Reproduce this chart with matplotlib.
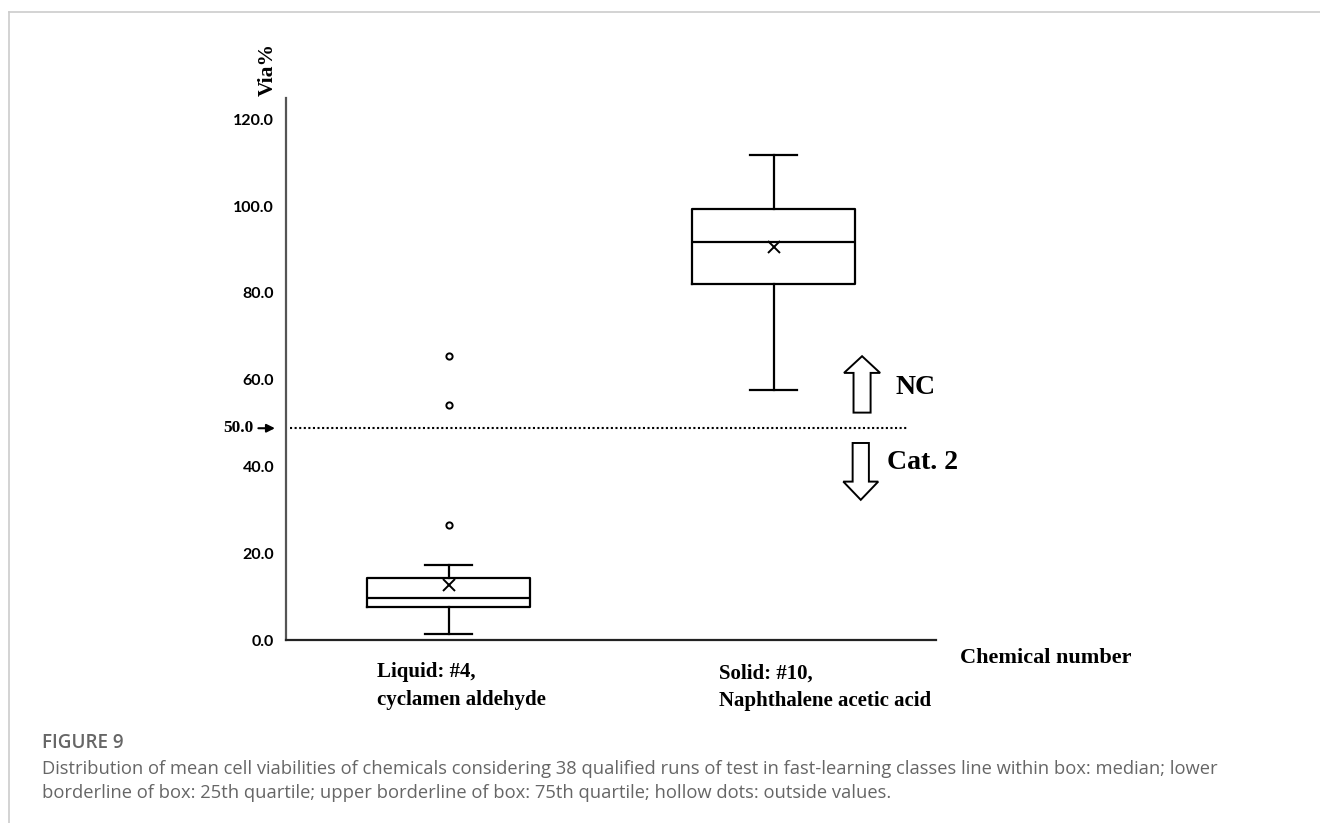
import numpy as np
import matplotlib.pyplot as plt
from matplotlib.lines import Line2D
import matplotlib.patches as mpatches

# values (Via %)
groups = ["Liquid: #4,\ncyclamen aldehyde", "Solid: #10,\nNaphthalene acetic acid"]
positions = [1, 3]
q1 = [7.6, 82.1]
med = [9.6, 91.8]
q3 = [14.2, 99.3]
whis_lo = [1.4, 57.6]
whis_hi = [17.3, 111.8]
means = [12.7, 90.6]
outliers = [[26.6, 54.2, 65.4], []]
cutoff = 48.8  # drawn height of the 50 % line
yticks = [0, 20, 40, 60, 80, 100, 120]

W, H = 1320, 823
fig = plt.figure(figsize=(W / 100, H / 100), dpi=100)

def fx(px):
    return px / W

def fy(py):
    return 1 - py / H

ax = fig.add_axes([fx(286), fy(640), fx(936) - fx(286), fy(98) - fy(640)])
ax.set_xlim(0, 4)
ax.set_ylim(0, 124.9)

stats = []
for i in range(2):
    stats.append(dict(med=med[i], q1=q1[i], q3=q3[i], whislo=whis_lo[i],
                      whishi=whis_hi[i], mean=means[i], fliers=outliers[i]))

ax.bxp(stats, positions=positions, widths=1.0, capwidths=0.29,
       showmeans=True, patch_artist=False,
       boxprops=dict(color='black', lw=1.6),
       medianprops=dict(color='black', lw=1.6),
       whiskerprops=dict(color='black', lw=1.6),
       capprops=dict(color='black', lw=1.6),
       meanprops=dict(marker='x', markeredgecolor='black', markersize=9, mew=1.4),
       flierprops=dict(marker='o', markerfacecolor='none', markeredgecolor='black',
                       markersize=4.5, mew=1.4))

# 50 % line
ax.plot([0.025, 3.83], [cutoff, cutoff], color='black', lw=1.5,
        linestyle=(0, (1, 1.2)), clip_on=False)
ax.text(-0.203, cutoff, "50.0", ha='right', va='center', fontsize=12.5,
        family='Liberation Serif', fontweight='bold', clip_on=False)
ax.annotate('', xy=(-0.068, cutoff), xytext=(-0.17, cutoff),
            arrowprops=dict(arrowstyle='-|>', color='black', lw=1.5,
                            mutation_scale=12, shrinkA=0, shrinkB=0),
            annotation_clip=False)

# hollow arrows
up = mpatches.FancyArrow(3.545, 52.4, 0, 13.0, width=0.105, head_width=0.222,
                         head_length=3.85, length_includes_head=True,
                         fc='white', ec='black', lw=1.4, clip_on=False)
down = mpatches.FancyArrow(3.537, 45.4, 0, -13.1, width=0.1, head_width=0.215,
                           head_length=4.2, length_includes_head=True,
                           fc='white', ec='black', lw=1.4, clip_on=False)
ax.add_patch(up)
ax.add_patch(down)
ax.text(3.748, 58.3, "NC", fontsize=20, family='Liberation Serif',
        fontweight='bold', va='center', ha='left')
ax.text(3.70, 41.0, "Cat. 2", fontsize=20, family='Liberation Serif',
        fontweight='bold', va='center', ha='left')

# axes styling
for s in ['top', 'right']:
    ax.spines[s].set_visible(False)
ax.spines['left'].set_color('#555555')
ax.spines['left'].set_linewidth(1.6)
ax.spines['bottom'].set_color('#222222')
ax.spines['bottom'].set_linewidth(1.6)
ax.set_xticks([])
ax.set_yticks(yticks)
ax.set_yticklabels([f"{v:.1f}" for v in yticks], family='Lato',
                   fontweight='bold', fontsize=11.5)
ax.tick_params(axis='y', length=0, pad=8.5)

# category labels
ax.text(0.56, -10.6, groups[0], ha='left', va='center', fontsize=15,
        family='Liberation Serif', fontweight='bold', linespacing=1.5, clip_on=False)
ax.text(2.665, -10.9, groups[1], ha='left', va='center', fontsize=15,
        family='Liberation Serif', fontweight='bold', linespacing=1.5, clip_on=False)
ax.text(4.148, -4.1, "Chemical number", ha='left', va='center', fontsize=16,
        family='Liberation Serif', fontweight='bold', clip_on=False)
fig.text(fx(268), fy(69), "Via%", rotation=90, ha='center', va='center',
         fontsize=15.5, family='Liberation Serif', fontweight='bold')

# caption
cap_col = '#666666'
fig.text(fx(41.5), fy(743), "FIGURE 9", ha='left', va='center', fontsize=13.6,
         family='Open Sans', fontweight='semibold', color=cap_col)
fig.text(fx(41.5), fy(769), "Distribution of mean cell viabilities of chemicals considering 38 "
         "qualified runs of test in fast-learning classes line within box: median; lower",
         ha='left', va='center', fontsize=13.25, family='Open Sans', color=cap_col)
fig.text(fx(41.5), fy(793), "borderline of box: 25th quartile; upper borderline of box: "
         "75th quartile; hollow dots: outside values.",
         ha='left', va='center', fontsize=13.25, family='Open Sans', color=cap_col)

# page frame
fig.add_artist(Line2D([fx(9), 1], [fy(12), fy(12)], color='#cccccc', lw=1.2))
fig.add_artist(Line2D([fx(9), fx(9)], [0, fy(12)], color='#cccccc', lw=1.2))

fig.savefig('out.png', dpi=100)
